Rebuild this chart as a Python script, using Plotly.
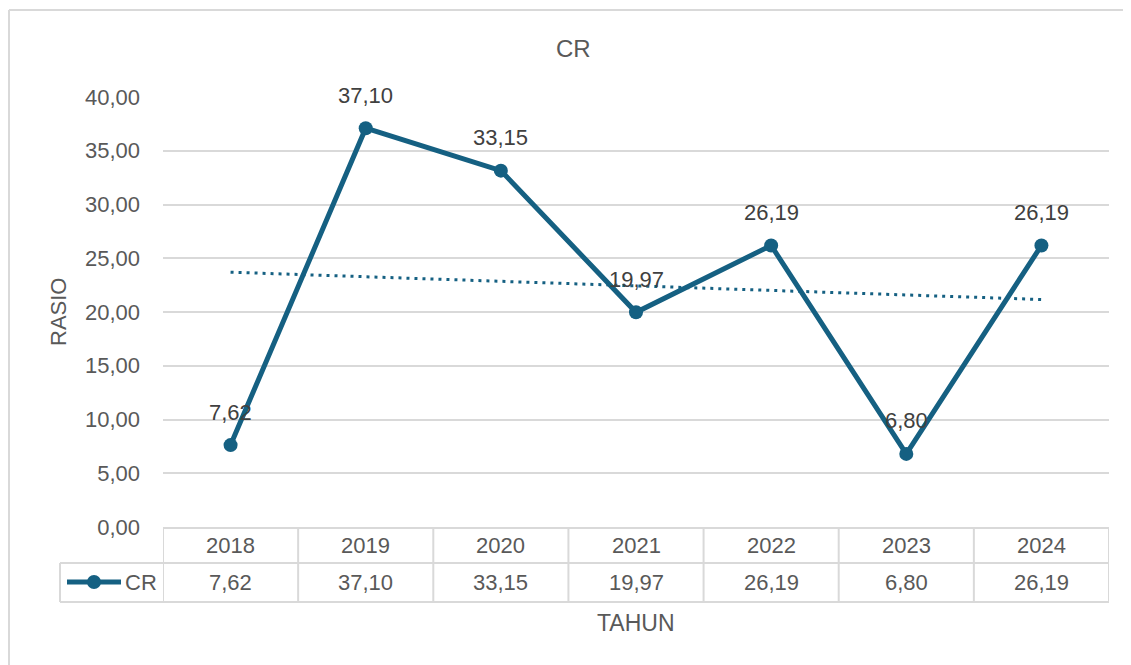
import numpy as np
import plotly.graph_objects as go

years = ["2018", "2019", "2020", "2021", "2022", "2023", "2024"]
cr_values = [7.62, 37.10, 33.15, 19.97, 26.19, 6.80, 26.19]
series_name = "CR"
y_ticks = [0, 5, 10, 15, 20, 25, 30, 35, 40]

COLOR = "#156082"
GRID = "#d9d9d9"
TXT = "#595959"
LBL = "#404040"
FONT = "Liberation Sans"

OFF = 8  # page body margin
W, H = 1131 - OFF, 665 - OFF
L, R, T, B = 163 - OFF, 1109 - OFF, 97 - OFF, 527 - OFF


def px(x):
    return (x - OFF - L) / (R - L)


def py(y):
    return (B - (y - OFF)) / (B - T)


def fmt(v):
    return f"{v:.2f}".replace(".", ",")


idx = np.arange(len(years))
slope, intercept = np.polyfit(idx, cr_values, 1)
trend = slope * idx + intercept

fig = go.Figure()
fig.add_trace(go.Scatter(
    x=years, y=trend, mode="lines",
    line=dict(color=COLOR, width=3, dash="3px,5px"),
    hoverinfo="skip", showlegend=False,
))
fig.add_trace(go.Scatter(
    x=years, y=cr_values, mode="lines+markers", name=series_name,
    line=dict(color=COLOR, width=5),
    marker=dict(color=COLOR, size=14),
    showlegend=False,
))

annotations = []
shapes = []
# data labels
for i, v in enumerate(cr_values):
    annotations.append(dict(x=i, y=v, xref="x", yref="y", text=fmt(v),
                            showarrow=False, yshift=33,
                            font=dict(family=FONT, size=22, color=LBL)))

# data table
row_top = py(528)
row_mid = py(563)
row_bot = py(602)
leg_left = px(60)
line_style = dict(color=GRID, width=2)
shapes.append(dict(type="line", xref="paper", yref="paper", x0=0, x1=1,
                   y0=row_top, y1=row_top, line=line_style))
shapes.append(dict(type="line", xref="paper", yref="paper", x0=leg_left, x1=1,
                   y0=row_mid, y1=row_mid, line=line_style))
shapes.append(dict(type="line", xref="paper", yref="paper", x0=leg_left, x1=1,
                   y0=row_bot, y1=row_bot, line=line_style))
shapes.append(dict(type="line", xref="paper", yref="paper", x0=leg_left, x1=leg_left,
                   y0=row_mid, y1=row_bot, line=line_style))
for i in range(len(years) + 1):
    xb = i - 0.5
    shapes.append(dict(type="line", xref="x", yref="paper", x0=xb, x1=xb,
                       y0=row_top, y1=row_bot, line=line_style))
for i, (yr, v) in enumerate(zip(years, cr_values)):
    annotations.append(dict(x=i, y=(row_top + row_mid) / 2, xref="x", yref="paper",
                            text=yr, showarrow=False, yanchor="middle",
                            font=dict(family=FONT, size=22, color=TXT)))
    annotations.append(dict(x=i, y=(row_mid + row_bot) / 2, xref="x", yref="paper",
                            text=fmt(v), showarrow=False, yanchor="middle",
                            font=dict(family=FONT, size=22, color=TXT)))
# legend key in table
ky = py(582)
shapes.append(dict(type="line", xref="paper", yref="paper", x0=px(67), x1=px(121),
                   y0=ky, y1=ky, line=dict(color=COLOR, width=5)))
shapes.append(dict(type="circle", xref="paper", yref="paper",
                   x0=px(94) - 7 / (R - L), x1=px(94) + 7 / (R - L),
                   y0=ky - 7 / (B - T), y1=ky + 7 / (B - T),
                   fillcolor=COLOR, line=dict(color=COLOR, width=0)))
annotations.append(dict(x=px(123), y=ky, xref="paper", yref="paper", text=series_name,
                        showarrow=False, xanchor="left", yanchor="middle",
                        font=dict(family=FONT, size=22, color=TXT)))

# titles
annotations.append(dict(x=px(573), y=py(48), xref="paper", yref="paper", text="CR",
                        showarrow=False, yanchor="middle",
                        font=dict(family=FONT, size=24, color=TXT)))
annotations.append(dict(x=px(636), y=py(623), xref="paper", yref="paper", text="TAHUN",
                        showarrow=False, yanchor="middle",
                        font=dict(family=FONT, size=23, color=TXT)))
annotations.append(dict(x=px(58), y=py(312), xref="paper", yref="paper", text="RASIO",
                        showarrow=False, textangle=-90, xanchor="center", yanchor="middle",
                        font=dict(family=FONT, size=22, color=TXT)))

# outer chart border (top and left visible)
shapes.append(dict(type="line", xref="paper", yref="paper", x0=px(9), x1=px(1140),
                   y0=py(10), y1=py(10), line=line_style))
shapes.append(dict(type="line", xref="paper", yref="paper", x0=px(9), x1=px(9),
                   y0=py(10), y1=py(680), line=line_style))

fig.update_layout(
    width=W, height=H,
    margin=dict(l=L, r=W - R, t=T, b=H - B),
    paper_bgcolor="white", plot_bgcolor="white",
    separators=",.",
    annotations=annotations, shapes=shapes,
    font=dict(family=FONT, color=TXT),
)
fig.update_xaxes(type="category", range=[-0.5, len(years) - 0.5], showgrid=False,
                 showticklabels=False, zeroline=False, showline=False, ticks="")
fig.update_yaxes(range=[0, 40], tickvals=y_ticks, tickformat=".2f",
                 showgrid=True, gridcolor=GRID, gridwidth=2, zeroline=False,
                 showline=False, ticks="", ticklabelstandoff=22,
                 tickfont=dict(family=FONT, size=22, color=TXT))

fig.write_html("out.html")
